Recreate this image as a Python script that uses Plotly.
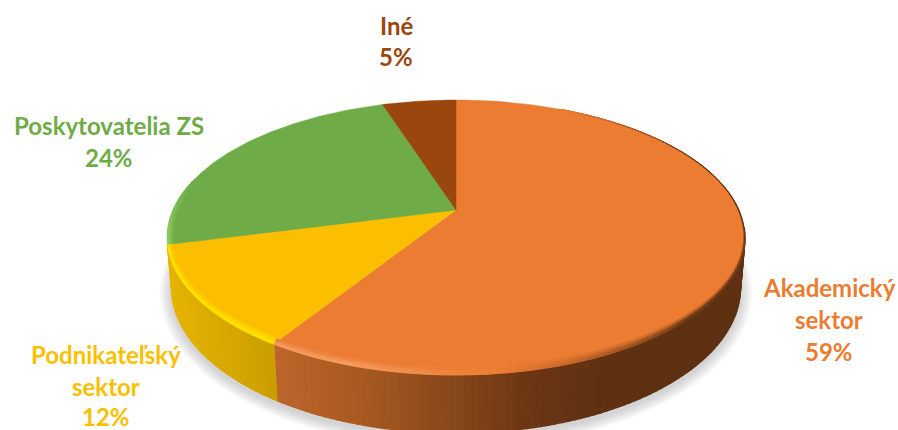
import numpy as np
import plotly.graph_objects as go

# Share of each sector, in percent, clockwise from twelve o'clock
categories = ["Akademický sektor", "Podnikateľský sektor", "Poskytovatelia ZS", "Iné"]
shares = [59, 12, 24, 5]
label_lines = [["Akademický", "sektor"], ["Podnikateľský", "sektor"], ["Poskytovatelia ZS"], ["Iné"]]

# Styling per sector
face_colors = ["#EB7C31", "#FBBF00", "#6FAC47", "#9A470D"]
text_colors = ["#EB7C31", "#FBBF00", "#6FAC47", "#9A470D"]
label_rows = [(829, [287, 319, 351]), (106, [354, 386, 416]), (109, [125, 157]), (396, [25, 56])]
wall_stops = [
    [(277, "#BC652B"), (370, "#A5581F"), (450, "#88471C"), (530, "#6B3614"), (600, "#5F3113"), (760, "#5F3113")],
    [(165, "#E6B400"), (225, "#D8A800"), (280, "#C89C00")],
    None,
    None,
]

# Perspective camera of the tilted disc
CX, CY, A, B, K, DEPTH = 456.0, 210.0, 283.0, 132.0, 0.2, 49.0
BASE_R = 0.985


def project(r, theta, drop=0.0):
    """Map polar disc coordinates (clockwise from north) to page pixels."""
    u, v = r * np.sin(theta), r * np.cos(theta)
    w = 1 + K * v
    return CX + A * u / w, CY - B * v / w + drop * DEPTH / w


def rgb(c):
    return np.array([int(c[i:i + 2], 16) for i in (1, 3, 5)], float)


def mix(c1, c2, t):
    a = rgb(c1) * (1 - t) + rgb(c2) * t
    return "rgb(%d,%d,%d)" % tuple(a.round())


def wall_color(stops, x):
    xs = [s[0] for s in stops]
    chans = [np.interp(x, xs, [rgb(s[1])[i] for s in stops]) for i in range(3)]
    return "rgb(%d,%d,%d)" % tuple(round(c) for c in chans)


def poly(fig, x, y, color, opacity=1.0, seam=0.6):
    fig.add_trace(go.Scatter(
        x=x, y=y, mode="lines", fill="toself", fillcolor=color, opacity=opacity,
        line=dict(color=color, width=seam), hoverinfo="skip", showlegend=False,
    ))


def rim_light(i, theta):
    """Bevel along the rim: edge tint, its strength and the radial width of the band."""
    deg = np.degrees(theta) % 360
    if i == 0:
        if deg >= 172:
            return "#F8A066", float(np.clip((deg - 172) / 30, 0, 0.85)), 0.004
        if deg >= 100:
            return "#5F3113", float(np.clip((172 - deg) / 40, 0, 0.95)), 0.004
        return "#4A2A12", float(np.clip((deg - 25) / 50, 0, 0.9)), 0.004
    if i == 1:
        return "#FFE100", 1.0, 0.012
    if i == 2:
        return "#8CCB5E", float(np.clip((285 - deg) / 25, 0, 1)), 0.02
    return face_colors[3], 0.0, 0.0


fractions = np.array(shares, float) / sum(shares)
edges = np.concatenate([[0], np.cumsum(fractions)]) * 2 * np.pi

fig = go.Figure()

# Soft drop shadow beneath the disc
full = np.linspace(0, 2 * np.pi, 240)
for grow in np.linspace(12, 1, 10):
    sx, sy = project(BASE_R, full, 1.0)
    cx, cy = sx.mean(), sy.mean()
    poly(fig, cx + (sx - cx) * (1 + grow / 290), cy + (sy - cy) * (1 + grow / 170) + 4,
         "#9A9A9A", opacity=0.05, seam=0)

# Side walls, drawn as narrow overlapping strips shaded by page position
for i in range(len(shares)):
    if wall_stops[i] is None:
        continue
    n = max(4, int(fractions[i] * 300))
    ts = np.linspace(edges[i], edges[i + 1], n + 1)
    for a, b in zip(ts[:-1], ts[1:]):
        if np.cos((a + b) / 2) > -0.12:
            continue
        x0, y0 = project(1.0, a)
        x1, y1 = project(1.0, b)
        x2, y2 = project(BASE_R, b, 1.0)
        x3, y3 = project(BASE_R, a, 1.0)
        poly(fig, [x0, x1, x2, x3, x0], [y0, y1, y2, y3, y0],
             wall_color(wall_stops[i], (x0 + x1) / 2), seam=1.6)

# Top faces of the wedges
for i in range(len(shares)):
    ts = np.linspace(edges[i], edges[i + 1], 120)
    ex, ey = project(1.0, ts)
    poly(fig, np.r_[CX, ex, CX], np.r_[CY, ey, CY], face_colors[i], seam=0.5)

# Bevel along the rim, fading from the face colour out to the edge tint
bands = [(1.0, 0.62, 0.3), (0.62, 0.3, 0.7), (0.3, 0.0, 1.0)]
for i in range(len(shares)):
    n = max(4, int(fractions[i] * 240))
    ts = np.linspace(edges[i], edges[i + 1], n + 1)
    for a, b in zip(ts[:-1], ts[1:]):
        mid = (a + b) / 2
        tint, strength, width = rim_light(i, mid)
        if strength <= 0.01:
            continue
        lift = 0.11 * max(0.0, -np.cos(mid))
        for outer_f, inner_f, level in bands:
            xa, ya = project(1 - width * outer_f, np.array([a, b]), -lift * outer_f)
            xb, yb = project(1 - width * inner_f, np.array([b, a]), -lift * inner_f)
            poly(fig, np.r_[xa, xb, xa[0]], np.r_[ya, yb, ya[0]],
                 mix(face_colors[i], tint, level * strength), seam=0.8)

# One annotation per text line keeps the label rows evenly spaced
annotations = []
for i, lines in enumerate(label_lines):
    cx, rows = label_rows[i]
    for t, cy in zip(lines + [f"{shares[i]}%"], rows):
        annotations.append(dict(
            x=cx, y=cy, xref="x", yref="y", text=t, showarrow=False,
            xanchor="center", yanchor="middle",
            font=dict(family="Lato", size=24, color=text_colors[i], weight="bold"),
        ))

fig.update_layout(
    width=898, height=430, margin=dict(l=0, r=0, t=0, b=0),
    paper_bgcolor="white", plot_bgcolor="white", showlegend=False,
    xaxis=dict(range=[0, 898], visible=False, fixedrange=True),
    yaxis=dict(range=[430, 0], visible=False, fixedrange=True),
    annotations=annotations,
)

fig.write_html("out.html", config={"displayModeBar": False})
